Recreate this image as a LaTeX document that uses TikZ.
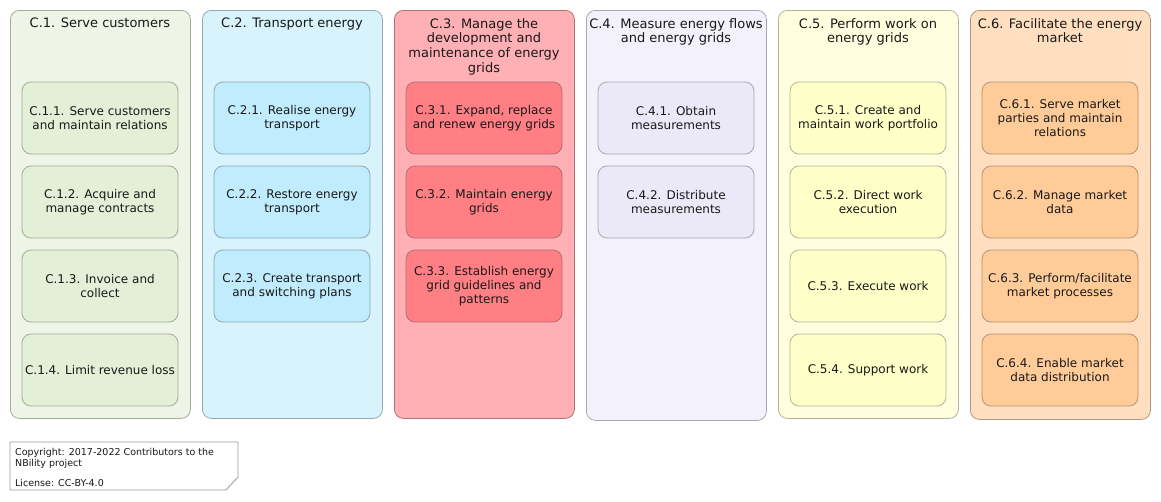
\documentclass[tikz,border=0pt]{standalone}
\usepackage{fontspec}
\setmainfont{DejaVu Sans}
\begin{document}
\begin{tikzpicture}[x=1pt,y=-1pt,
  outerbox/.style={draw=#1, rounded corners=9pt, line width=0.8pt, anchor=north west, minimum width=180pt, inner sep=0pt},
  innerbox/.style={draw=#1, rounded corners=9pt, line width=0.8pt, minimum width=156pt, minimum height=72pt, inner sep=0pt, align=center, font=\fontsize{12}{14}\selectfont, text=black!90},
  titletext/.style={anchor=north, align=center, inner sep=0pt, font=\fontsize{13}{14.7}\selectfont, text=black!90},
  notetext/.style={anchor=base west, inner sep=0pt, font=\fontsize{9.5}{10.7}\selectfont, text=black!90}
]
\definecolor{aO}{HTML}{EEF4E6}\definecolor{aI}{HTML}{E3EFD7}\definecolor{aB}{HTML}{A3AD98}
\definecolor{bO}{HTML}{D9F3FD}\definecolor{bI}{HTML}{C0ECFD}\definecolor{bB}{HTML}{8FA9B6}
\definecolor{cO}{HTML}{FFB0B4}\definecolor{cI}{HTML}{FF7F84}\definecolor{cB}{HTML}{B07074}
\definecolor{dO}{HTML}{F3F2FC}\definecolor{dI}{HTML}{EBE9F8}\definecolor{dB}{HTML}{A8A8B4}
\definecolor{eO}{HTML}{FFFFE0}\definecolor{eI}{HTML}{FFFFC8}\definecolor{eB}{HTML}{B3B396}
\definecolor{fO}{HTML}{FFDFC0}\definecolor{fI}{HTML}{FFCC99}\definecolor{fB}{HTML}{B39578}
\definecolor{noteB}{HTML}{999999}
\useasboundingbox (0,0) rectangle (1161,501);

% outer containers
\node[outerbox=aB, fill=aO, minimum height=408pt] (c1) at (10,10) {};
\node[outerbox=bB, fill=bO, minimum height=408pt] (c2) at (202,10) {};
\node[outerbox=cB, fill=cO, minimum height=408pt] (c3) at (394,10) {};
\node[outerbox=dB, fill=dO, minimum height=410pt] (c4) at (586,10) {};
\node[outerbox=eB, fill=eO, minimum height=408pt] (c5) at (778,10) {};
\node[outerbox=fB, fill=fO, minimum height=409pt] (c6) at (970,10) {};

% titles
\node[titletext] (t1) at (100,18) {C.1. Serve customers};
\node[titletext] (t2) at (292,18) {C.2. Transport energy};
\node[titletext] (t3) at (484,18) {C.3. Manage the\\development and\\maintenance of energy\\grids};
\node[titletext] (t4) at (676,18) {C.4. Measure energy flows\\and energy grids};
\node[titletext] (t5) at (868,18) {C.5. Perform work on\\energy grids};
\node[titletext] (t6) at (1060,18) {C.6. Facilitate the energy\\market};

% C.1
\node[innerbox=aB, fill=aI] (c11) at (100,118) {C.1.1. Serve customers\\and maintain relations};
\node[innerbox=aB, fill=aI] (c12) at (100,202) {C.1.2. Acquire and\\manage contracts};
\node[innerbox=aB, fill=aI] (c13) at (100,286) {C.1.3. Invoice and\\collect};
\node[innerbox=aB, fill=aI] (c14) at (100,370) {C.1.4. Limit revenue loss};
% C.2
\node[innerbox=bB, fill=bI] (c21) at (292,118) {C.2.1. Realise energy\\transport};
\node[innerbox=bB, fill=bI] (c22) at (292,202) {C.2.2. Restore energy\\transport};
\node[innerbox=bB, fill=bI] (c23) at (292,286) {C.2.3. Create transport\\and switching plans};
% C.3
\node[innerbox=cB, fill=cI] (c31) at (484,118) {C.3.1. Expand, replace\\and renew energy grids};
\node[innerbox=cB, fill=cI] (c32) at (484,202) {C.3.2. Maintain energy\\grids};
\node[innerbox=cB, fill=cI] (c33) at (484,286) {C.3.3. Establish energy\\grid guidelines and\\patterns};
% C.4
\node[innerbox=dB, fill=dI] (c41) at (676,118) {C.4.1. Obtain\\measurements};
\node[innerbox=dB, fill=dI] (c42) at (676,202) {C.4.2. Distribute\\measurements};
% C.5
\node[innerbox=eB, fill=eI] (c51) at (868,118) {C.5.1. Create and\\maintain work portfolio};
\node[innerbox=eB, fill=eI] (c52) at (868,202) {C.5.2. Direct work\\execution};
\node[innerbox=eB, fill=eI] (c53) at (868,286) {C.5.3. Execute work};
\node[innerbox=eB, fill=eI] (c54) at (868,370) {C.5.4. Support work};
% C.6
\node[innerbox=fB, fill=fI] (c61) at (1060,118) {C.6.1. Serve market\\parties and maintain\\relations};
\node[innerbox=fB, fill=fI] (c62) at (1060,202) {C.6.2. Manage market\\data};
\node[innerbox=fB, fill=fI] (c63) at (1060,286) {C.6.3. Perform/facilitate\\market processes};
\node[innerbox=fB, fill=fI] (c64) at (1060,370) {C.6.4. Enable market\\data distribution};

% note
\draw[draw=noteB, fill=white, line width=0.8pt] (10,442) -- (238,442) -- (238,477) -- (226,490) -- (10,490) -- cycle;
\node[notetext] (n1) at (15,455.5) {Copyright: 2017-2022 Contributors to the};
\node[notetext] (n2) at (15,466) {NBility project};
\node[notetext] (n3) at (15,486) {License: CC-BY-4.0};
\end{tikzpicture}
\end{document}
